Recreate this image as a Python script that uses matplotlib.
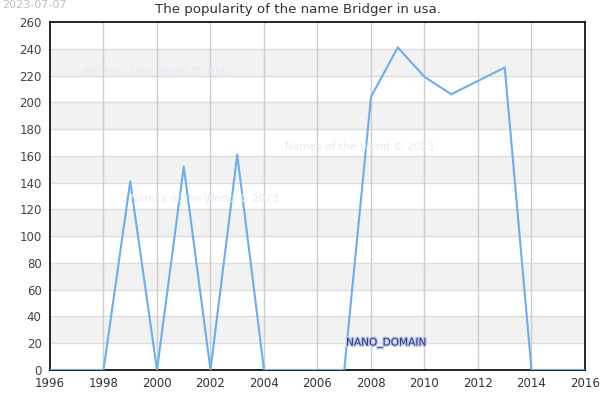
import numpy as np
import matplotlib
matplotlib.use("Agg")
import matplotlib.pyplot as plt
import matplotlib.patheffects as pe

# popularity of the name Bridger
years = [1996, 1997, 1998, 1999, 2000, 2001, 2002, 2003, 2004, 2005, 2006,
         2007, 2008, 2009, 2010, 2011, 2012, 2013, 2014, 2015, 2016]
counts = [0, 0, 0, 141, 0, 152, 0, 161, 0, 0, 0,
          0, 204, 241, 219, 206, 216, 226, 0, 0, 0]

xticks = list(range(1996, 2017, 2))
yticks = list(range(0, 261, 20))

fig = plt.figure(figsize=(6, 4), dpi=100)
ax = fig.add_axes([50/600, 30/400, 535/600, 348/400])

# alternating bands
for lo in yticks[:-1]:
    if (lo // 20) % 2 == 1:
        ax.axhspan(lo, lo + 20, color="#f2f2f2", zorder=0, lw=0)
for v in yticks[1:-1]:
    ax.axhline(v, color="#dddddd", lw=1, zorder=1)
for x in xticks[1:-1]:
    ax.axvline(x, color="#cccccc", lw=1, zorder=1)

ax.plot(years, counts, color="#6aaef0", lw=1.5, zorder=3)

ax.set_xlim(1996, 2016)
ax.set_ylim(0, 260)
ax.set_xticks(xticks)
ax.set_yticks(yticks)
ax.tick_params(labelsize=8.5, colors="#444444", length=0)
ax.tick_params(axis="x", labelcolor="#333333", pad=5)
ax.tick_params(axis="y", pad=6)
for s in ax.spines.values():
    s.set_color("black")
    s.set_linewidth(1.2)

fig.text(0.497, 1 - 10/400, "The popularity of the name Bridger in usa.",
         fontsize=9.6, color="#333333", ha="center", va="center")

wm = dict(color="#e8e8fa", fontsize=7.6, zorder=2, transform=fig.transFigure)
fig.text(83/600, 1 - 72/400, "Names of the World © 2023", va="center", **wm)
fig.text(285/600, 1 - 147/400, "Names of the World © 2023", va="center", **wm)
fig.text(130/600, 1 - 199/400, "Names of the World © 2023", va="center", **wm)

fig.text(346/600, 1 - 343/400, "NANO_DOMAIN", fontsize=7.6, color="#2a3a6e",
         va="center", path_effects=[pe.withStroke(linewidth=1.8, foreground="#b8c2ee")])
fig.text(2/600, 1 - 5/400, "2023-07-07", fontsize=8, color="#c0c0c0", va="center")

fig.savefig("out.png", dpi=100)
